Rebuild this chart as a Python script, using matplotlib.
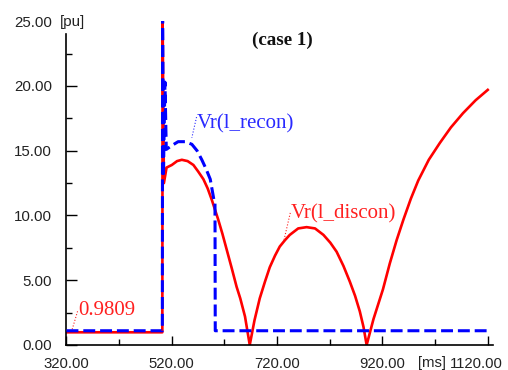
import matplotlib
matplotlib.use('Agg')
import matplotlib.pyplot as plt
import matplotlib.transforms as mtransforms
from matplotlib.ticker import FixedLocator, FormatStrFormatter

# values: time in ms, voltage in pu
t_discon = [320, 502, 502.5, 505, 510, 520, 530, 539, 550, 561, 570, 580, 588, 596,
            608, 616, 624, 634, 643, 650, 659, 668,
            677, 687, 697, 706, 716, 725, 735, 744, 760, 776, 792, 808, 821, 833,
            846, 858, 868, 877, 884, 890,
            903, 921, 934, 947, 960, 974, 988, 1008, 1029, 1050, 1073, 1097, 1120]
v_discon = [0.98, 0.98, 25.3, 12.5, 13.7, 13.9, 14.2, 14.3, 14.2, 13.9, 13.4, 12.8, 12.1, 11.2,
            9.7, 8.6, 7.4, 5.9, 4.5, 3.6, 2.2, 0.0,
            1.9, 3.6, 4.9, 6.0, 6.9, 7.6, 8.1, 8.5, 9.0, 9.1, 9.0, 8.5, 7.9, 7.2,
            6.1, 4.9, 3.8, 2.6, 1.4, 0.0,
            2.0, 4.3, 6.3, 8.1, 9.7, 11.3, 12.7, 14.3, 15.6, 16.8, 17.9, 18.9, 19.7]

t_recon = [320, 502, 502.5, 504, 507, 509.5, 520, 532, 545, 558, 568, 577, 585, 593,
           600, 602, 602.5, 1120]
v_recon = [1.1, 1.1, 25.3, 13.0, 20.3, 15.1, 15.4, 15.7, 15.7, 15.5, 15.0, 14.3, 13.6, 12.8,
           11.2, 11.0, 1.1, 1.1]

x_major = [320, 520, 720, 920, 1120]
x_minor = [420, 620, 820, 1020]
y_major = [0, 5, 10, 15, 20, 25]
y_minor = [2.5, 7.5, 12.5, 17.5, 22.5]

plt.rcParams['font.family'] = 'Liberation Sans'

fig = plt.figure(figsize=(5.08, 3.70), dpi=100)
ax = fig.add_axes([0.1309, 0.0676, 0.9705 - 0.1309, 0.9426 - 0.0676])

ax.plot(t_discon, v_discon, color='#ff0000', lw=1.9, zorder=2)
ax.plot(t_recon, v_recon, color='#0000ff', lw=2.2, zorder=3,
        linestyle=(0, (3.9, 1.6)), dash_capstyle='butt')

ax.set_xlim(320, 1130)
ax.set_ylim(0, 25)

# axes look
for side in ['top', 'right']:
    ax.spines[side].set_visible(False)
ax.spines['left'].set_bounds(0, 24)
ax.spines['left'].set_linewidth(1.2)
ax.spines['bottom'].set_linewidth(1.2)

ax.xaxis.set_major_locator(FixedLocator(x_major))
ax.xaxis.set_minor_locator(FixedLocator(x_minor))
ax.yaxis.set_major_locator(FixedLocator(y_major))
ax.yaxis.set_minor_locator(FixedLocator(y_minor))
ax.xaxis.set_major_formatter(FormatStrFormatter('%.2f'))
ax.yaxis.set_major_formatter(FormatStrFormatter('%.2f'))

ax.tick_params(axis='x', which='major', direction='in', length=6.5, width=1.0,
               pad=8.5, labelsize=10.7, labelcolor='#222222')
ax.tick_params(axis='x', which='minor', direction='in', length=4, width=1.0)
ax.tick_params(axis='y', which='major', direction='in', length=8, width=1.0,
               pad=10.6, labelsize=10.8, labelcolor='#222222')
ax.tick_params(axis='y', which='minor', direction='in', length=4, width=1.0)

# odd ticks: grey ones and the one above the spine
for loc, tick in zip(ax.xaxis.get_majorticklocs(), ax.xaxis.get_major_ticks()):
    if loc == 520:
        tick.tick1line.set_color('#c8c8c8')
for loc, tick in zip(ax.yaxis.get_majorticklocs(), ax.yaxis.get_minor_ticks()):
    pass
for loc, tick in zip(ax.yaxis.get_majorticklocs(), ax.yaxis.get_major_ticks()):
    if loc == 25:
        tick.tick1line.set_visible(False)
for loc, tick in zip(ax.yaxis.get_minorticklocs(), ax.yaxis.get_minor_ticks()):
    if loc == 22.5:
        tick.tick1line.set_color('#c8c8c8')

# last x label runs off the edge in the original: nudge it left so it stays whole
shift = mtransforms.ScaledTranslation(-11 / 100, 0, fig.dpi_scale_trans)
for lab in ax.get_xticklabels():
    if lab.get_text() == '1120.00':
        lab.set_transform(lab.get_transform() + shift)

# unit labels
fig.text(60 / 508, 1 - 22 / 370, '[pu]', ha='left', va='center', fontsize=10.8, color='#222222')
fig.text(432 / 508, 1 - 363 / 370, '[ms]', ha='center', va='center', fontsize=10.7, color='#222222')

# title and curve labels
ax.text(730, 23.2, '(case 1)', ha='center', va='baseline', fontsize=13.7,
        fontweight='bold', family='Liberation Serif', color='#111111')

ax.text(567, 16.7, 'Vr(l_recon)', ha='left', va='baseline', fontsize=15,
        family='Liberation Serif', color='#2a2aff')
ax.plot([567, 558], [17.6, 16.0], color='#2a2aff', lw=0.8, linestyle=':')

ax.text(746, 9.8, 'Vr(l_discon)', ha='left', va='baseline', fontsize=15,
        family='Liberation Serif', color='#ff2020')
ax.plot([745, 733], [10.2, 8.1], color='#ff2020', lw=0.8, linestyle=':')

ax.text(342, 2.32, '0.9809', ha='left', va='baseline', fontsize=15,
        family='Liberation Serif', color='#ff2020')
ax.plot([341, 330], [2.6, 1.1], color='#ff2020', lw=0.8, linestyle=':')

fig.savefig('out.png', dpi=100)
